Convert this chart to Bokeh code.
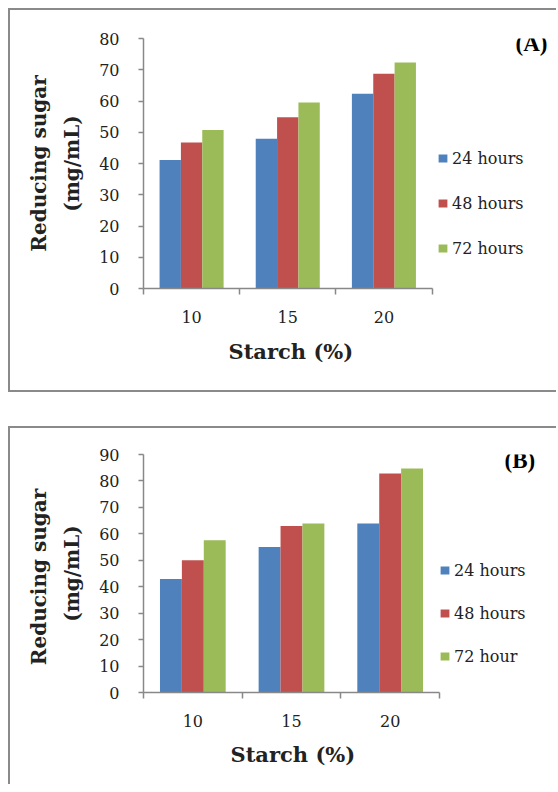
from bokeh.plotting import figure
from bokeh.models import (Range1d, FixedTicker, SingleIntervalTicker, Label, ColumnDataSource,
                          Legend, LegendItem, Title)
from bokeh.layouts import column
from bokeh.embed import file_html
from bokeh.resources import INLINE

# ---- data ----
starch = ["10", "15", "20"]
series_names_a = ["24 hours", "48 hours", "72 hours"]
series_names_b = ["24 hours", "48 hours", "72 hour"]
a_24 = [41.1, 47.9, 62.3]
a_48 = [46.7, 54.8, 68.7]
a_72 = [50.7, 59.5, 72.3]
b_24 = [42.9, 55.0, 63.9]
b_48 = [50.0, 63.0, 82.8]
b_72 = [57.6, 63.9, 84.7]
colors = ["#4F81BD", "#C0504D", "#9BBB59"]

AX = "#888888"
TXT = "#222222"
SERIF = "DejaVu Serif"
BORDER = "2px solid #8a8a8a"
XTITLE_W = 122  # approximate rendered width of the x title, used to centre it under the axis


def make_panel(values, names, ymax, tag, ylabel, W, H, mb, axis_px, legend_loc, legend_spacing,
               tag_xy, xtitle_standoff, border_css, tick_standoff, ylabel_standoff):
    n = len(starch)
    frame_px = W - mb[0] - mb[1]
    # the frame is wider than the category axis so the legend (right) sits inside it
    x_end = n * frame_px / axis_px
    p = figure(width=W, height=H, output_backend="svg", toolbar_location=None,
               x_range=Range1d(0, x_end), y_range=Range1d(0, ymax),
               min_border_left=mb[0], min_border_right=mb[1], min_border_top=mb[2],
               min_border_bottom=mb[3])
    p.styles = border_css
    p.outline_line_color = None
    p.xgrid.visible = False
    p.ygrid.visible = False
    bw = 0.222
    offsets = [-bw, 0.0, bw]
    items = []
    for vals, name, col, off in zip(values, names, colors, offsets):
        src = ColumnDataSource(dict(x=[i + 0.5 + off for i in range(n)], top=vals))
        r = p.vbar(x="x", top="top", width=bw, source=src, fill_color=col, line_color=None)
        items.append(LegendItem(label=name, renderers=[r]))

    # x axis: labels at group centres, tick marks at group boundaries
    xa = p.xaxis[0]
    xa.bounds = (0, n)
    xa.ticker = FixedTicker(ticks=[i + 0.5 for i in range(n)], minor_ticks=list(range(n + 1)))
    xa.major_label_overrides = {i + 0.5: s for i, s in enumerate(starch)}
    xa.major_tick_out = 0
    xa.major_tick_in = 0
    xa.minor_tick_out = 6
    xa.minor_tick_in = 0
    xa.minor_tick_line_color = AX
    xa.minor_tick_line_width = 1.5
    xa.axis_line_color = AX
    xa.axis_line_width = 1.5
    xa.major_label_text_font = SERIF
    xa.major_label_text_font_size = "16px"
    xa.major_label_text_color = TXT
    xa.major_label_standoff = tick_standoff

    # x-axis title, centred under the category axis
    p.add_layout(Title(text="Starch (%)", align="left", offset=axis_px / 2 - XTITLE_W / 2,
                       standoff=xtitle_standoff, text_font=SERIF, text_font_style="bold",
                       text_font_size="21px", text_color=TXT), "below")

    ya = p.yaxis[0]
    ya.ticker = SingleIntervalTicker(interval=10, num_minor_ticks=0)
    ya.major_tick_out = 5
    ya.major_tick_in = 0
    ya.major_tick_line_color = AX
    ya.major_tick_line_width = 1.5
    ya.minor_tick_line_color = None
    ya.axis_line_color = AX
    ya.axis_line_width = 1.5
    ya.major_label_text_font = SERIF
    ya.major_label_text_font_size = "16px"
    ya.major_label_text_color = TXT
    ya.major_label_standoff = 19
    ya.axis_label = ylabel
    ya.axis_label_text_font = SERIF
    ya.axis_label_text_font_style = "bold"
    ya.axis_label_text_font_size = "20px"
    ya.axis_label_text_color = TXT
    ya.axis_label_text_line_height = 1.38
    ya.axis_label_standoff = ylabel_standoff

    lg = Legend(items=items, location=legend_loc, orientation="vertical", padding=0, margin=0,
                spacing=legend_spacing, border_line_color=None, background_fill_alpha=0,
                glyph_width=11, glyph_height=10, label_height=20, label_standoff=4,
                label_text_font=SERIF, label_text_font_size="16px", label_text_color=TXT)
    p.add_layout(lg, "center")

    p.add_layout(Label(x=tag_xy[0], y=tag_xy[1], x_units="screen", y_units="screen", text=tag,
                       text_font="Liberation Serif", text_font_style="bold", text_font_size="23px",
                       text_color="#000000", text_baseline="middle"))
    return p


pA = make_panel([a_24, a_48, a_72], series_names_a, 80, "(A)", "Reducing sugar\n(mg/mL)",
                548, 384, (128, 2, 28, 106), 292, (294, 30), 25, (372, 245), 23,
                {"border-left": BORDER, "border-top": BORDER, "border-bottom": BORDER},
                16, 12)
pB = make_panel([b_24, b_48, b_72], series_names_b, 90, "(B)", "Reducing  sugar\n(mg/mL)",
                548, 358, (133, 2, 26, 94), 296, (296, 26), 23, (361, 232), 20,
                {"border-left": BORDER, "border-top": BORDER},
                16, 12)

layout = column(pA, pB, spacing=34, styles={"margin-left": "8px", "margin-top": "8px"})
open("out.html", "w").write(file_html(layout, INLINE))
